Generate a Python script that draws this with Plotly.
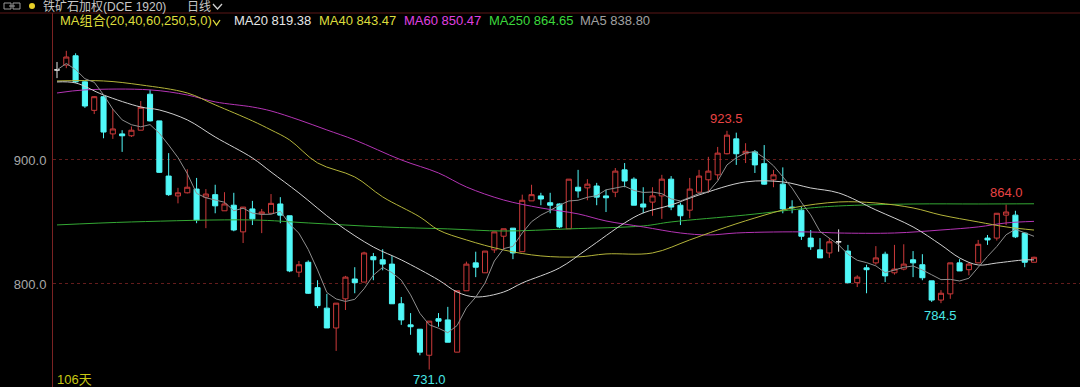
import plotly.graph_objects as go
import pandas as pd

# ---------------- data ----------------
opens = [972.6, 976.5, 984, 963, 940, 951, 921, 921, 919.5, 924,
         953, 931.5, 887, 871, 873.5, 876.5, 870, 872, 859, 863.5,
         842, 860.5, 856.5, 857, 864.5, 855, 809.5, 817.5, 797, 780.5,
         764.5, 788, 804, 801.5, 822, 819.5, 816, 784, 767, 763.5,
         742.5, 772, 771, 745, 794.5, 817, 809, 827.5, 838.5, 845,
         826, 867, 871, 865.5, 864.5, 844.5, 878, 877.5, 879, 871,
         874, 892, 884.5, 864.5, 866, 871, 884.5, 863.5, 859.5, 874,
         884, 888, 905, 917, 905, 906.5, 897, 884, 880.5, 862,
         859.5, 837, 827.5, 825, 834, 826.5, 801, 813, 817, 824,
         809, 812, 819.5, 815.5, 802.5, 787, 792, 817, 811.5, 817,
         837, 837, 855.5, 855.5, 841, 817.5]
highs = [979, 988, 986, 964, 951.5, 952, 941, 924, 927, 947.5,
         956.5, 931.5, 905.5, 877.5, 892.5, 885.5, 876.5, 880, 874, 873.5,
         862, 867, 860.5, 872.5, 870, 855, 818.5, 819, 803, 792,
         784.5, 806.5, 813.5, 826, 825, 828, 822.5, 789.5, 776.5, 763.5,
         770, 776.5, 781.5, 794.5, 818, 826, 826.5, 842, 844.5, 845,
         872, 880, 873.5, 873.5, 865, 884.5, 892, 884.5, 881.5, 876,
         893.5, 897.5, 886, 878, 878, 888, 887, 865.5, 885.5, 892,
         902.5, 910.5, 923.5, 922, 913.5, 908, 912, 892, 894, 867.5,
         862, 843.5, 837, 837, 844, 831.5, 807, 815.5, 830.5, 826,
         831.5, 832, 826.5, 824, 802.5, 795, 817, 820, 817.5, 835.5,
         839.5, 857, 864, 859, 841.5, 822]
lows = [966, 974, 962, 942, 937, 917.5, 917, 906.5, 918.5, 924,
        931, 889.5, 871, 865, 873, 849, 845, 857, 859, 842.5,
        833, 847.5, 841, 857, 849, 809.5, 805.5, 792, 780.5, 764.5,
        746, 779, 792.5, 801.5, 803, 811, 784, 767, 759, 742.5,
        731, 765.5, 753, 745, 794.5, 805.5, 809, 825, 827.5, 820,
        826, 867, 863.5, 857, 845, 844.5, 869.5, 867.5, 863.5, 858,
        870, 878, 863.5, 857, 855, 852.5, 859.5, 847.5, 853, 874,
        873.5, 884, 904.5, 896, 897.5, 889.5, 880, 878, 857, 857,
        835.5, 827.5, 821, 821, 826, 800.5, 797.5, 792.5, 815.5, 801.5,
        807.5, 811, 805.5, 803, 785.5, 784.5, 788, 810.5, 807, 817,
        831.5, 835, 847.5, 837, 813.5, 817.5]
closes = [972.6, 983, 963, 943.5, 951, 922.5, 925, 919.5, 924, 942.5,
          931.5, 890, 872, 873.5, 878, 851.5, 872.5, 863, 864.5, 843.5,
          862, 852.5, 858, 865, 855.5, 810.5, 815.5, 792.5, 782.5, 764.5,
          784.5, 805.5, 801, 825, 819.5, 816, 784, 771, 765.5, 745,
          770, 770, 753, 794.5, 816, 813.5, 826.5, 842, 844.5, 825,
          867.5, 872, 868.5, 863.5, 846, 884.5, 875, 880.5, 870, 869.5,
          891, 883, 863.5, 862, 871, 884.5, 862, 855, 876.5, 887,
          891, 905.5, 920, 905, 907, 896, 880.5, 888, 860.5, 861.5,
          838.5, 830, 821, 834, 834, 801, 805.5, 811.5, 821, 806.5,
          812, 816, 817, 805, 787, 792.5, 817, 810.5, 816, 832,
          835.5, 857, 858, 838, 817.5, 821.5]
doji_idx = [0, 84]  # open == close, drawn as white crosses

# moving averages sampled along the picture (candle index, value)
ma20_idx = [0, 2, 5, 9, 11, 14, 17, 21, 23, 26, 30, 34, 37, 41, 43, 45, 48, 50, 54, 57,
            61, 63, 66, 69, 74, 78, 81, 84, 88, 92, 95, 97, 99, 101, 104, 105]
ma20_val = [962.9, 962.1, 952.4, 942.7, 940.3, 932.3, 918.5, 901.6, 890.3, 873.4, 849.2,
            829.8, 819.4, 803.2, 793.5, 789.5, 793.5, 800.8, 812.9, 828.2, 849.2, 857.3,
            863.7, 871.8, 882.3, 882.3, 877.4, 873.4, 859.7, 846.0, 831.5, 821.0, 815.3,
            816.9, 819.4, 819.38]
ma40_idx = [0, 5, 9, 14, 17, 21, 23, 25, 28, 32, 35, 39, 41, 44, 48, 52, 56, 59, 64, 68,
            71, 75, 79, 84, 88, 92, 95, 99, 102, 105]
ma40_val = [963.7, 963.7, 960.5, 954.0, 944.4, 931.5, 924.2, 916.1, 897.6, 886.3, 870.2,
            854.0, 843.5, 835.5, 827.4, 822.6, 821.8, 824.2, 825.0, 835.5, 843.5, 853.2,
            861.3, 866.1, 865.3, 861.3, 855.6, 850.0, 846.0, 843.47]
ma60_idx = [0, 3, 10, 14, 17, 21, 23, 26, 29, 32, 37, 41, 44, 48, 52, 56, 59, 63, 67, 70,
            73, 77, 81, 84, 90, 95, 99, 102, 105]
ma60_val = [954.0, 956.5, 956.5, 952.4, 946.8, 942.7, 939.5, 932.3, 924.2, 916.1, 900.0,
            889.5, 878.2, 867.7, 861.3, 856.5, 850.8, 846.0, 841.1, 839.5, 841.1, 841.9,
            841.9, 841.1, 841.1, 843.5, 846.0, 849.2, 850.47]
ma250_idx = [0, 8, 21, 27, 35, 42, 48, 55, 63, 66, 74, 81, 84, 92, 99, 105]
ma250_val = [847.6, 850.0, 851.6, 849.2, 846.0, 844.4, 842.7, 844.4, 846.8, 850.0, 855.6,
             861.3, 862.9, 864.5, 864.5, 864.65]

y_ticks = [800, 900]
y_ticktext = ["800.0", "900.0"]
hi_marks = [(72, 923.5, "923.5"), (102, 864.0, "864.0")]
lo_marks = [(40, 731.0, "731.0"), (95, 784.5, "784.5")]

# ---------------- styling ----------------
UP = "#cc3a3a"
DN = "#50f8f8"
FONT = "Liberation Sans, Arial, Noto Sans CJK SC, sans-serif"

W, H = 1080, 387
L_M, T_M = 53, 13


def px(x):
    return (x - L_M) / (W - L_M)


def py(y):
    return (H - y) / (H - T_M)


x_all = list(range(len(opens)))
main_x = [i for i in x_all if i not in doji_idx]

fig = go.Figure()

fig.add_trace(go.Candlestick(
    x=main_x,
    open=[opens[i] for i in main_x], high=[highs[i] for i in main_x],
    low=[lows[i] for i in main_x], close=[closes[i] for i in main_x],
    increasing=dict(line=dict(color=UP, width=1), fillcolor="rgba(0,0,0,0)"),
    decreasing=dict(line=dict(color=DN, width=1), fillcolor=DN),
    hoverinfo="skip", showlegend=False,
))
fig.add_trace(go.Candlestick(
    x=doji_idx,
    open=[opens[i] for i in doji_idx], high=[highs[i] for i in doji_idx],
    low=[lows[i] for i in doji_idx], close=[closes[i] for i in doji_idx],
    increasing=dict(line=dict(color="#e8e8e8", width=1), fillcolor="#e8e8e8"),
    decreasing=dict(line=dict(color="#e8e8e8", width=1), fillcolor="#e8e8e8"),
    hoverinfo="skip", showlegend=False,
))

ma5 = pd.Series(closes).rolling(5, min_periods=1).mean().tolist()

for xs, ys, col, shape in [
    (ma250_idx, ma250_val, "#34a834", "spline"),
    (ma60_idx, ma60_val, "#b434b4", "spline"),
    (ma40_idx, ma40_val, "#b4b43a", "spline"),
    (ma20_idx, ma20_val, "#cfcfcf", "spline"),
    (x_all, ma5, "#8e8e8e", "linear"),
]:
    fig.add_trace(go.Scatter(x=xs, y=ys, mode="lines",
                             line=dict(color=col, width=1, shape=shape),
                             hoverinfo="skip", showlegend=False))

ann = []
for i, v, t in hi_marks:
    ann.append(dict(x=i, y=v, xref="x", yref="y", text=t, showarrow=False,
                    yanchor="bottom", yshift=3, font=dict(family=FONT, size=13, color="#e84444")))
for i, v, t in lo_marks:
    ann.append(dict(x=i, y=v, xref="x", yref="y", text=t, showarrow=False,
                    yanchor="top", yshift=(0 if i == 40 else -3),
                    font=dict(family=FONT, size=13, color="#48e8e8")))

# header row
ann.append(dict(x=px(41), y=py(7), xref="paper", yref="paper", xanchor="left", yanchor="middle",
                text="铁矿石加权(DCE 1920)", showarrow=False,
                font=dict(family=FONT, size=12, color="#c8c8c8")))
ann.append(dict(x=px(185), y=py(7), xref="paper", yref="paper", xanchor="left", yanchor="middle",
                text="日线", showarrow=False, font=dict(family=FONT, size=12, color="#c8c8c8")))

# MA legend row
legend_items = [
    (58, "MA组合(20,40,60,250,5,0)", "#dcdc3c"),
    (232, "MA20 819.38", "#e6e6e6"),
    (317, "MA40 843.47", "#dcdc3c"),
    (402, "MA60 850.47", "#e040e0"),
    (487, "MA250 864.65", "#3cd83c"),
    (578, "MA5 838.80", "#a0a0a0"),
]
for x0, t, c in legend_items:
    ann.append(dict(x=px(x0), y=py(21), xref="paper", yref="paper", xanchor="left", yanchor="middle",
                    text=t, showarrow=False, font=dict(family=FONT, size=13, color=c)))

ann.append(dict(x=px(55), y=py(379), xref="paper", yref="paper", xanchor="left", yanchor="middle",
                text="106天", showarrow=False, font=dict(family=FONT, size=13, color="#c8c814")))

shapes = [
    # top separator line
    dict(type="line", xref="paper", yref="paper", x0=px(0), x1=1, y0=1, y1=1,
         line=dict(color="#5a1616", width=1)),
    # yellow dot
    dict(type="circle", xref="paper", yref="paper", x0=px(29), x1=px(35), y0=py(9), y1=py(3),
         fillcolor="#e8d028", line=dict(width=0)),
    # link icon
    dict(type="rect", xref="paper", yref="paper", x0=px(4), x1=px(11), y0=py(9), y1=py(3),
         line=dict(color="#9a9a9a", width=1)),
    dict(type="rect", xref="paper", yref="paper", x0=px(13), x1=px(20), y0=py(9), y1=py(3),
         line=dict(color="#9a9a9a", width=1)),
    dict(type="line", xref="paper", yref="paper", x0=px(9), x1=px(15), y0=py(6), y1=py(6),
         line=dict(color="#9a9a9a", width=1)),
    # chevrons
    dict(type="path", xref="paper", yref="paper",
         path=f"M {px(213)} {py(4)} L {px(217.5)} {py(9)} L {px(222)} {py(4)}",
         line=dict(color="#d0d0d0", width=1.3)),
    dict(type="path", xref="paper", yref="paper",
         path=f"M {px(213)} {py(20)} L {px(216.5)} {py(25)} L {px(220)} {py(20)}",
         line=dict(color="#dcdc3c", width=1.3)),
]

fig.update_layout(
    width=W, height=H,
    margin=dict(l=L_M, r=0, t=T_M, b=0),
    paper_bgcolor="#000000", plot_bgcolor="#000000",
    boxgap=0.22,
    annotations=ann, shapes=shapes,
    xaxis=dict(range=[-0.43, 109.94], showgrid=False, zeroline=False, showticklabels=False,
               showline=False, rangeslider=dict(visible=False), fixedrange=True),
    yaxis=dict(range=[716.9, 1018.5], tickvals=y_ticks, ticktext=y_ticktext,
               showgrid=True, gridcolor="#641c1c", griddash="dot", gridwidth=1,
               zeroline=False, showline=True, linecolor="#7a2222", linewidth=1,
               ticks="", ticklabelstandoff=3,
               tickfont=dict(family=FONT, size=13, color="#a8a8a8"), fixedrange=True),
)

fig.write_html("out.html")
